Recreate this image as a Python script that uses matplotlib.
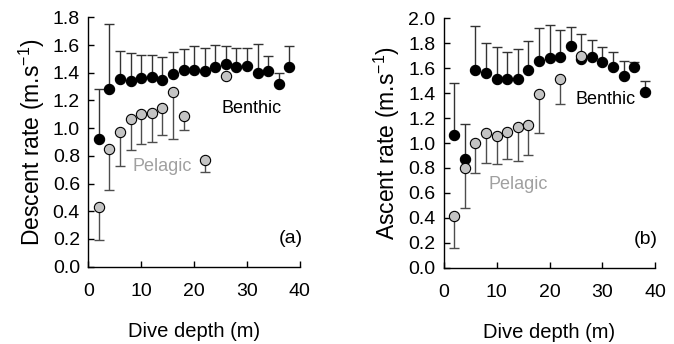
import numpy as np
import matplotlib
matplotlib.use("Agg")
import matplotlib.pyplot as plt

plt.rcParams['font.family'] = ['Liberation Sans', 'DejaVu Sans']
plt.rcParams['mathtext.default'] = 'regular'

depth = np.arange(2, 40, 2)

# (a) descent
desc_ben = [0.92, 1.28, 1.355, 1.34, 1.36, 1.37, 1.345, 1.39, 1.42, 1.42,
            1.41, 1.44, 1.46, 1.44, 1.45, 1.40, 1.41, 1.32, 1.44]
desc_ben_top = [1.28, 1.75, 1.56, 1.54, 1.53, 1.53, 1.51, 1.55, 1.57, 1.59,
                1.58, 1.60, 1.59, 1.58, 1.58, 1.61, 1.52, 1.40, 1.59]
desc_pel_x = [2, 4, 6, 8, 10, 12, 14, 16, 18, 22, 26]
desc_pel = [0.433, 0.847, 0.97, 1.066, 1.10, 1.109, 1.143, 1.258, 1.09, 0.768, 1.376]
desc_pel_bot = [0.19, 0.553, 0.727, 0.84, 0.883, 0.90, 0.948, 0.919, 0.99, 0.686, 1.376]

# (b) ascent
asc_ben = [1.064, 0.869, 1.586, 1.559, 1.51, 1.516, 1.51, 1.586, 1.655, 1.679,
           1.687, 1.775, 1.676, 1.687, 1.647, 1.612, 1.537, 1.607, 1.409]
asc_ben_top = [1.484, 1.152, 1.94, 1.805, 1.773, 1.733, 1.75, 1.818, 1.925, 1.947,
               1.909, 1.933, 1.877, 1.829, 1.77, 1.727, 1.66, 1.65, 1.495]
asc_pel_x = [2, 4, 6, 8, 10, 12, 14, 16, 18, 22, 26]
asc_pel = [0.414, 0.802, 1.003, 1.083, 1.056, 1.091, 1.131, 1.144, 1.393, 1.513, 1.698]
asc_pel_bot = [0.155, 0.476, 0.757, 0.837, 0.832, 0.872, 0.856, 0.904, 1.083, 1.313, 1.698]

fig = plt.figure(figsize=(6.74, 3.44), dpi=100)
ax1 = fig.add_axes([0.131, 0.2247, 0.314, 0.725])
ax2 = fig.add_axes([0.6583, 0.2218, 0.314, 0.725])


def panel(ax, ben, ben_top, pel_x, pel, pel_bot, ymax, ylabel, letter,
          ben_xy, pel_xy, let_xy, lab_x):
    ben = np.array(ben)
    pel = np.array(pel)
    up = np.array(ben_top) - ben
    down = pel - np.array(pel_bot)
    # one-sided bars: benthic up, pelagic down
    eb = ax.errorbar(depth, ben, yerr=[np.zeros_like(up), up], fmt='none',
                     ecolor='0.2', elinewidth=1, capsize=3.6, capthick=1, zorder=1)
    for c in eb[1]:
        c.set_color('black')
    ax.plot(depth, ben, 'o', ms=7.4, mfc='black', mec='black', mew=0.8, zorder=2)
    eb = ax.errorbar(pel_x, pel, yerr=[down, np.zeros_like(down)], fmt='none',
                     ecolor='0.3', elinewidth=1, capsize=3.6, capthick=1, zorder=3)
    for c in eb[1]:
        c.set_color('black')
    ax.plot(pel_x, pel, 'o', ms=7.4, mfc='#c4c4c4', mec='black', mew=0.8, zorder=4)

    ax.set_xlim(0, 40)
    ax.set_ylim(0, ymax)
    ax.set_xticks([0, 10, 20, 30, 40])
    ax.set_yticks(np.arange(0, ymax + 0.01, 0.2))
    ax.yaxis.set_major_formatter(matplotlib.ticker.FormatStrFormatter('%.1f'))
    for s in ['top', 'right']:
        ax.spines[s].set_visible(False)
    for s in ['left', 'bottom']:
        ax.spines[s].set_linewidth(1)
    ax.tick_params(direction='in', length=4, width=1, labelsize=14)
    ax.tick_params(axis='x', pad=12)
    ax.tick_params(axis='y', pad=6)
    ax.set_xlabel('Dive depth (m)', fontsize=14.5)
    ax.xaxis.set_label_coords(0.5, -0.222)
    ax.xaxis.label.set_va('top')
    ax.set_ylabel(ylabel, fontsize=16.5)
    ax.yaxis.set_label_coords(lab_x, 0.5)

    ax.text(ben_xy[0], ben_xy[1], 'Benthic', fontsize=13, color='black',
            ha='left', va='center')
    ax.text(pel_xy[0], pel_xy[1], 'Pelagic', fontsize=13, color='#a0a0a0',
            ha='left', va='center')
    ax.text(let_xy[0], let_xy[1], letter, fontsize=14, color='black',
            ha='left', va='center')


panel(ax1, desc_ben, desc_ben_top, desc_pel_x, desc_pel, desc_pel_bot, 1.8,
      'Descent rate (m.s$^{-1}$)', '(a)', (25.2, 1.14), (8.4, 0.72), (36.0, 0.20), -0.196)
panel(ax2, asc_ben, asc_ben_top, asc_pel_x, asc_pel, asc_pel_bot, 2.0,
      'Ascent rate (m.s$^{-1}$)', '(b)', (24.9, 1.35), (8.5, 0.668), (36.0, 0.227), -0.198)

fig.savefig('out.png', dpi=100)
